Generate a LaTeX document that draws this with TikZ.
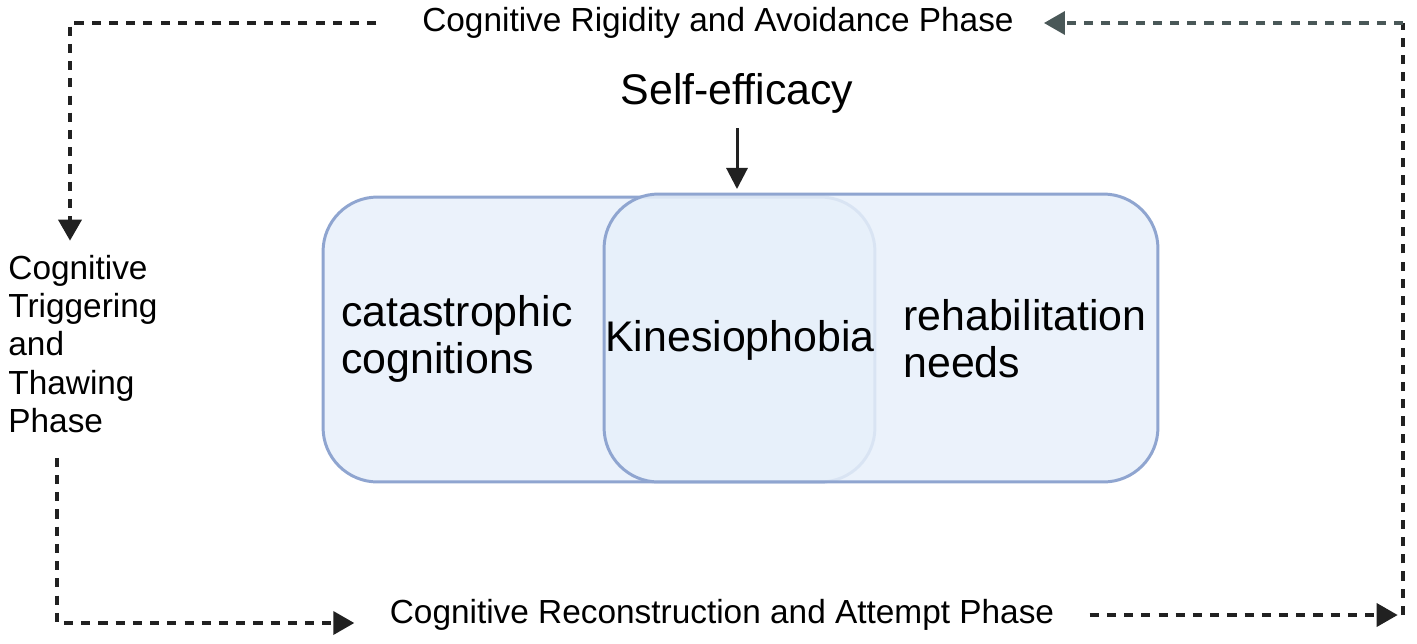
\documentclass[tikz,border=0pt]{standalone}
\usepackage{fontspec}
\setmainfont{Liberation Sans}
\usetikzlibrary{arrows.meta}

\definecolor{boxline}{RGB}{143,165,208}
\definecolor{boxfill}{RGB}{235,242,251}
\definecolor{boxfilltop}{RGB}{231,240,250}
\definecolor{darkline}{RGB}{33,33,33}
\definecolor{greyline}{RGB}{74,88,88}

\tikzset{
  phase/.style={line width=2.4pt, darkline, dash pattern=on 5.2pt off 4.6pt},
  tip/.style={-{Triangle[length=12pt,width=13pt]}},
  setbox/.style={draw=boxline, fill=boxfill, line width=1.7pt,
    rounded corners=31pt},
  phasetext/.style={inner sep=0pt, font=\fontsize{19}{21.8}\selectfont},
  bigtext/.style={inner sep=0pt, align=left,
    font=\fontsize{24.4}{26.6}\selectfont}
}

\begin{document}
\begin{tikzpicture}[x=0.02cm,y=-0.02cm]
        \useasboundingbox (0,0) rectangle (1417,643);

        % Catastrophic cognitions
        \node [setbox,
            minimum width=11.04cm,
            minimum height=5.7cm] (cata) at (599,339.5) {};

        % Rehabilitation needs
        \node [setbox,
            fill=boxfilltop,
            fill opacity=0.85,
            minimum width=11.08cm,
            minimum height=5.76cm] (rehab) at (881,338) {};

        % Set labels
        \node [bigtext, anchor=west] (catatext) at (341,339) {catastrophic\\cognitions};
        \node [bigtext, anchor=west] (rehabtext) at (903,339) {rehabilitation\\needs};
        \node [bigtext] (kin) at (740,340) {Kinesiophobia};
        \node [bigtext] (self) at (737,93) {Self-efficacy};

        \draw [line width=1.7pt, darkline, -{Triangle[length=12pt,width=12pt]},
            shorten <=8.5pt, shorten >=2pt] (self.south) -- (self.south |- rehab.north);

        % Phase labels
        \node [phasetext] (rigid) at (718,23) {Cognitive Rigidity and Avoidance Phase};
        \node [phasetext, align=left, anchor=west, inner sep=8pt] (trigger) at (-6,344)
            {Cognitive\\Triggering\\and\\Thawing\\Phase};
        \node [phasetext] (recon) at (722,615) {Cognitive Reconstruction and Attempt Phase};

        % Phase cycle
        \coordinate (tl) at (70,23);
        \coordinate (bl) at (57,623);
        \coordinate (br) at (1403,615);
        \coordinate (tr) at (1403,23);

        \draw [phase, tip, shorten <=26pt] (rigid.west) -- (tl) -- (tl |- trigger.north);
        \draw [phase, tip, shorten <=6pt, shorten >=20pt]
            (bl |- trigger.south) -- (bl) -- (bl -| recon.west);
        \draw [phase, tip, shorten <=20pt, shorten >=3pt] (recon.east) -- (br);
        \draw [phase] (br) -- (tr);
        \draw [phase, greyline, tip, shorten >=17pt] (tr) -- (rigid.east);

\end{tikzpicture}
\end{document}
